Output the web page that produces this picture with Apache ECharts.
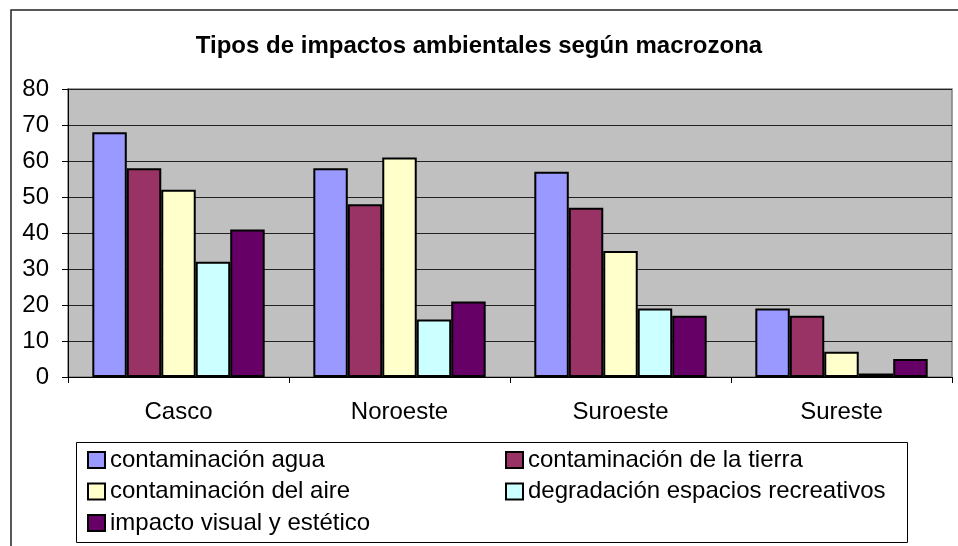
<!DOCTYPE html>
<html>
<head>
<meta charset="utf-8">
<script src="https://cdn.jsdelivr.net/npm/echarts@6/dist/echarts.min.js"></script>
<style>
html,body{margin:0;padding:0;background:#fff;}
#c{width:958px;height:546px;}
</style>
</head>
<body>
<div id="c"></div>
<script>
const titleText = 'Tipos de impactos ambientales según macrozona';
const categories = ['Casco', 'Noroeste', 'Suroeste', 'Sureste'];
const seriesNames = ['contaminación agua', 'contaminación de la tierra', 'contaminación del aire', 'degradación espacios recreativos', 'impacto visual y estético'];
const agua = [68, 58, 57, 19];
const tierra = [58, 48, 47, 17];
const aire = [52, 61, 35, 7];
const degradacion = [32, 16, 19, 1];
const impacto = [41, 21, 17, 5];
const yTicks = [0, 10, 20, 30, 40, 50, 60, 70, 80];
const colors = ['#9999FF', '#993366', '#FFFFCC', '#CCFFFF', '#660066'];
const values = [agua, tierra, aire, degradacion, impacto];

const font = 'Liberation Sans, Arial, sans-serif';
const chart = echarts.init(document.getElementById('c'), null, {renderer: 'canvas'});

const legendCommon = {
  orient: 'vertical',
  itemWidth: 17,
  itemHeight: 16,
  itemGap: 7.5,
  icon: 'rect',
  textStyle: {fontFamily: font, fontSize: 24, color: '#000', lineHeight: 24},
  itemStyle: {borderColor: '#000', borderWidth: 2},
  selectedMode: false
};

chart.setOption({
  animation: false,
  backgroundColor: '#fff',
  color: colors,
  title: {
    text: titleText,
    left: 'center',
    top: 29,
    textStyle: {fontFamily: font, fontSize: 24, fontWeight: 'bold', color: '#000'}
  },
  grid: {
    left: 68, right: 6, top: 89, bottom: 169,
    show: true, backgroundColor: '#C0C0C0', borderColor: '#808080', borderWidth: 1.5
  },
  legend: [
    Object.assign({}, legendCommon, {left: 82, top: 443, data: [seriesNames[0], seriesNames[2], seriesNames[4]]}),
    Object.assign({}, legendCommon, {left: 500, top: 443, data: [seriesNames[1], seriesNames[3]]})
  ],
  xAxis: {
    type: 'category',
    data: categories,
    axisLine: {lineStyle: {color: '#000', width: 1}},
    axisTick: {show: true, length: 6, lineStyle: {color: '#000'}},
    axisLabel: {fontFamily: font, fontSize: 24, color: '#000', margin: 23}
  },
  yAxis: {
    type: 'value',
    min: yTicks[0],
    max: yTicks[yTicks.length - 1],
    interval: 10,
    axisLine: {show: true, lineStyle: {color: '#000', width: 1}},
    axisTick: {show: true, length: 6, lineStyle: {color: '#000'}},
    axisLabel: {fontFamily: font, fontSize: 24, color: '#000', margin: 19},
    splitLine: {show: true, lineStyle: {color: '#222', width: 1}}
  },
  series: seriesNames.map((n, i) => ({
    name: n,
    type: 'bar',
    data: values[i],
    barGap: '0%',
    barCategoryGap: '22%',
    itemStyle: {color: colors[i], borderColor: '#000', borderWidth: 2}
  })),
  graphic: [
    {type: 'rect', silent: true, z: 100, shape: {x: 11, y: 10, width: 1000, height: 600},
     style: {fill: 'none', stroke: '#222', lineWidth: 1.5}},
    {type: 'rect', silent: true, z: 100, shape: {x: 76.5, y: 442.5, width: 831, height: 100},
     style: {fill: 'none', stroke: '#000', lineWidth: 1}}
  ]
});
</script>
</body>
</html>
